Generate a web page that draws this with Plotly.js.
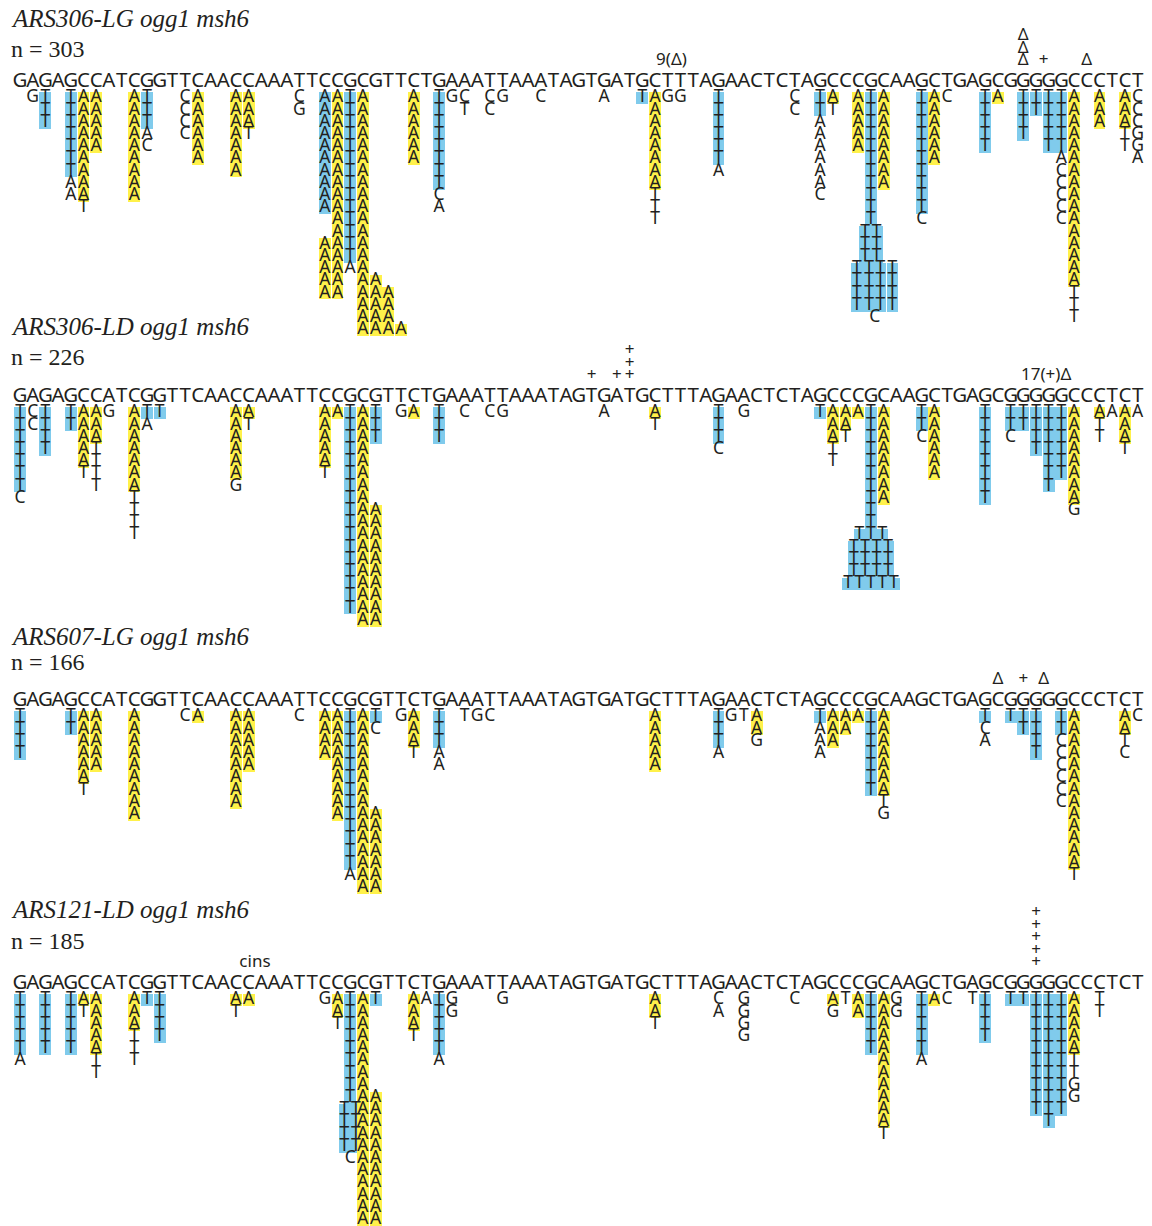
<!DOCTYPE html>
<html><head><meta charset="utf-8">
<script src="https://cdn.plot.ly/plotly-3.0.1.min.js"></script>
<style>html,body{margin:0;padding:0;background:#fff}</style>
</head><body><div id="chart" style="width:1152px;height:1226px"></div>
<script>
// ---------------- DATA ----------------
const SEQUENCE = "GAGAGCCATCGGTTCAACCAAATTCCGCGTTCTGAAATTAAATAGTGATGCTTTAGAACTCTAGCCCGCAAGCTGAGCGGGGGCCCTCT";
const TITLES = ["ARS306-LG ogg1 msh6", "ARS306-LD ogg1 msh6", "ARS607-LG ogg1 msh6", "ARS121-LD ogg1 msh6"];
const COUNTS = [303, 226, 166, 185];

// Each column: [sequence position, first row, letters top->bottom, highlighted rows, class]
// class "GT" = G->T (G:C->T:A), "CA" = C->A
const P1_COLUMNS = [
 [1,0,"G",0,""],[2,0,"TTT",3,"GT"],[4,0,"TTTTTTTAA",7,"GT"],[5,0,"AAAAAAAAAT",9,"CA"],[6,0,"AAAAA",5,"CA"],
 [9,0,"AAAAAAAAA",9,"CA"],[10,0,"TTTAC",3,"GT"],[13,0,"CCCC",0,""],[14,0,"AAAAAA",6,"CA"],[17,0,"AAAAAAA",7,"CA"],
 [18,0,"AAAT",3,"CA"],[22,0,"CG",0,""],[24,0,"AAAAAAAAAA",10,"GT"],[24,12,"AAAAA",5,"CA"],
 [25,0,"AAAAAAAAAAAAAAAAA",17,"CA"],[26,0,"TTTTTTTTTTTTTTA",14,"GT"],[27,0,"AAAAAAAAAAAAAAAAAAAA",20,"CA"],
 [28,15,"AAAAA",5,"CA"],[29,16,"AAAA",4,"CA"],[30,19,"A",1,"CA"],[31,0,"AAAAAA",6,"CA"],[33,0,"TTTTTTTTCA",8,"GT"],
 [34,0,"G",0,""],[35,0,"CT",0,""],[37,0,"CC",0,""],[38,0,"G",0,""],[41,0,"C",0,""],[46,0,"A",0,""],
 [49,0,"T",1,"GT"],[50,0,"AAAAAAAATTT",8,"CA"],[51,0,"G",0,""],[52,0,"G",0,""],[55,0,"TTTTTTA",6,"GT"],
 [61,0,"CC",0,""],[63,0,"TTAAAAAAC",2,"GT"],[64,0,"AT",1,"CA"],[66,0,"AAAAA",5,"CA"],[67,0,"TTTTTTTTTTT",11,"GT"],
 [66.55,11,"TTT",3,"GT"],[67.45,11,"TTT",3,"GT"],[65.9,14,"TTTT",4,"GT"],[66.85,14,"TTTT",4,"GT"],
 [67.75,14,"TTTT",4,"GT"],[68.7,14,"TTTT",4,"GT"],[67.3,18,"C",0,""],[68,0,"AAAAAAAA",8,"CA"],
 [71,0,"TTTTTTTTTTC",10,"GT"],[72,0,"AAAAAA",6,"CA"],[73,0,"C",0,""],[76,0,"TTTTT",5,"GT"],[77,0,"A",1,"CA"],
 [79,0,"TTTT",4,"GT"],[80,0,"TT",2,"GT"],[81,0,"TTTTT",5,"GT"],[82,0,"TTTTTACCCCC",5,"GT"],
 [83,0,"AAAAAAAAAAAAAAAATTT",16,"CA"],[85,0,"AAA",3,"CA"],[87,0,"AAATT",3,"CA"],[88,0,"CCCGGA",0,""]
];
const P2_COLUMNS = [
 [0,0,"TTTTTTTC",7,"GT"],[1,0,"CC",0,""],[2,0,"TTTT",4,"GT"],[4,0,"TT",2,"GT"],[5,0,"AAAAAT",5,"CA"],
 [6,0,"AAATTTT",3,"CA"],[7,0,"G",0,""],[9,0,"AAAAAAATTTT",7,"CA"],[10,0,"TA",1,"GT"],[11,0,"T",1,"GT"],
 [17,0,"AAAAAAG",6,"CA"],[18,0,"AT",1,"CA"],[24,0,"AAAAAT",5,"CA"],[25,0,"A",1,"CA"],
 [26,0,"TTTTTTTTTTTTTTTTT",17,"GT"],[27,0,"AAAAAAAAAAAAAAAAAA",18,"CA"],[28,0,"TTT",3,"GT"],
 [28,8,"AAAAAAAAAA",10,"CA"],[30,0,"G",0,""],[31,0,"A",1,"CA"],[33,0,"TTT",3,"GT"],[35,0,"C",0,""],
 [37,0,"C",0,""],[38,0,"G",0,""],[46,0,"A",0,""],[50,0,"AT",1,"CA"],[55,0,"TTTC",3,"GT"],[57,0,"G",0,""],
 [63,0,"T",1,"GT"],[64,0,"AAATT",3,"CA"],[65,0,"AAT",2,"CA"],[66,0,"A",1,"CA"],[67,0,"TTTTTTTTTT",10,"GT"],
 [66.1,10,"T",1,"GT"],[67,10,"T",1,"GT"],[67.9,10,"T",1,"GT"],
 [65.65,11,"TTT",3,"GT"],[66.55,11,"TTT",3,"GT"],[67.45,11,"TTT",3,"GT"],[68.35,11,"TTT",3,"GT"],
 [65.2,14,"T",1,"GT"],[66.1,14,"T",1,"GT"],[67,14,"T",1,"GT"],[67.9,14,"T",1,"GT"],[68.8,14,"T",1,"GT"],
 [68,0,"AAAAAAAA",8,"CA"],[71,0,"TTC",2,"GT"],[72,0,"AAAAAA",6,"CA"],[76,0,"TTTTTTTT",8,"GT"],
 [78,0,"TTC",2,"GT"],[79,0,"TT",2,"GT"],[80,0,"TTTT",4,"GT"],[81,0,"TTTTTTT",7,"GT"],[82,0,"TTTTTT",6,"GT"],
 [83,0,"AAAAAAAAG",8,"CA"],[85,0,"ATT",1,"CA"],[86,0,"A",0,""],[87,0,"AAAT",3,"CA"],[88,0,"A",0,""]
];
const P3_COLUMNS = [
 [0,0,"TTTT",4,"GT"],[4,0,"TT",2,"GT"],[5,0,"AAAAAAT",6,"CA"],[6,0,"AAAAA",5,"CA"],[9,0,"AAAAAAAAA",9,"CA"],
 [13,0,"C",0,""],[14,0,"A",1,"CA"],[17,0,"AAAAAAAA",8,"CA"],[18,0,"AAAAA",5,"CA"],[22,0,"C",0,""],
 [24,0,"AAAA",4,"CA"],[25,0,"AAAAAAAAA",9,"CA"],[26,0,"TTTTTTTTTTTTTA",13,"GT"],
 [27,0,"AAAAAAAAAAAAAAA",15,"CA"],[28,0,"TC",1,"GT"],[28,8,"AAAAAAA",7,"CA"],[30,0,"G",0,""],
 [31,0,"AAAT",3,"CA"],[33,0,"TTTAA",3,"GT"],[35,0,"T",0,""],[36,0,"G",0,""],[37,0,"C",0,""],
 [50,0,"AAAAA",5,"CA"],[55,0,"TTTA",3,"GT"],[56,0,"G",0,""],[57,0,"T",0,""],[58,0,"AAG",2,"CA"],
 [63,0,"TAAA",1,"GT"],[64,0,"AAA",3,"CA"],[65,0,"AA",2,"CA"],[66,0,"A",1,"CA"],[67,0,"TTTTTTT",7,"GT"],
 [68,0,"AAAAAAATG",7,"CA"],[76,0,"TCA",1,"GT"],[78,0,"T",1,"GT"],[79,0,"TT",2,"GT"],[80,0,"TTTT",4,"GT"],
 [82,0,"TTCCCCCC",2,"GT"],[83,0,"AAAAAAAAAAAAAT",13,"CA"],[87,0,"AATC",2,"CA"],[88,0,"C",0,""]
];
const P4_COLUMNS = [
 [0,0,"TTTTTA",5,"GT"],[2,0,"TTTTT",5,"GT"],[4,0,"TTTTT",5,"GT"],[5,0,"AT",1,"CA"],[6,0,"AAAAATT",5,"CA"],
 [9,0,"AAATTT",3,"CA"],[10,0,"T",1,"GT"],[11,0,"TTTT",4,"GT"],[17,0,"AT",1,"CA"],[18,0,"A",1,"CA"],
 [24,0,"G",0,""],[25,0,"AAT",2,"CA"],[26,0,"TTTTTTTTT",9,"GT"],[25.55,9,"TTTT",4,"GT"],[26.45,9,"TTTT",4,"GT"],
 [26,13,"C",0,""],[27,0,"AAAAAAAAAAAAAAAAAAA",19,"CA"],[28,0,"T",1,"GT"],[28,8,"AAAAAAAAAAA",11,"CA"],
 [31,0,"AAAT",3,"CA"],[32,0,"A",0,""],[33,0,"TTTTTA",5,"GT"],[34,0,"GG",0,""],[38,0,"G",0,""],
 [50,0,"AAT",2,"CA"],[55,0,"CA",0,""],[57,0,"GGGG",0,""],[61,0,"C",0,""],[64,0,"AG",1,"CA"],[65,0,"T",0,""],
 [66,0,"AA",2,"CA"],[67,0,"TTTTT",5,"GT"],[68,0,"AAAAAAAAAAAT",11,"CA"],[69,0,"GG",0,""],
 [71,0,"TTTTTA",5,"GT"],[72,0,"A",1,"CA"],[73,0,"C",0,""],[75,0,"T",0,""],[76,0,"TTTT",4,"GT"],
 [78,0,"T",1,"GT"],[79,0,"T",1,"GT"],[80,0,"TTTTTTTTTT",10,"GT"],[81,0,"TTTTTTTTTTT",11,"GT"],
 [82,0,"TTTTTTTTTT",10,"GT"],[83,0,"AAAAATTGG",5,"CA"],[85,0,"TT",0,""]
];

// Marks above the sequence: [sequence position, level above sequence, text]
const P1_MARKS = [[79,1,"Δ"],[79,2,"Δ"],[79,3,"Δ"],[80.6,1,"+"],[84,1,"Δ"],[51.3,1,"9(Δ)"]];
const P2_MARKS = [[45,1,"+"],[47,1,"+"],[48,1,"+"],[48,2,"+"],[48,3,"+"],[80.8,1,"17(+)Δ"]];
const P3_MARKS = [[77,1,"Δ"],[79,1,"+"],[80.6,1,"Δ"]];
const P4_MARKS = [[18.5,1,"cins"],[80,1,"+"],[80,2,"+"],[80,3,"+"],[80,4,"+"],[80,5,"+"]];

// ---------------- LAYOUT / DRAWING ----------------
const W = 1152, H = 1226;
const X0 = 20, DX = 12.7;        // pixel of position 0, pixels per base
const PITCH = 12.2;              // row pitch in px
const INK = "#231f20";
const SANS = "Noto Sans, Open Sans, DejaVu Sans, sans-serif";
const SERIF = "Liberation Serif, DejaVu Serif, serif";
const COLORS = {GT: "#80cbec", CA: "#fff14a"};

const PANELS = [
  {cols: P1_COLUMNS, marks: P1_MARKS, titleY: 18,  nY: 49,  seqY: 82},
  {cols: P2_COLUMNS, marks: P2_MARKS, titleY: 326, nY: 357, seqY: 397},
  {cols: P3_COLUMNS, marks: P3_MARKS, titleY: 636, nY: 662, seqY: 701},
  {cols: P4_COLUMNS, marks: P4_MARKS, titleY: 910, nY: 941, seqY: 984}
];

const seq = {x: [], y: [], t: []};
const mut = {x: [], y: [], t: []};
const mk = {x: [], y: [], t: []};
const bars = {GT: {x: [], y: [], base: []}, CA: {x: [], y: [], base: []}};
const annotations = [];

PANELS.forEach((p, pi) => {
  for (let i = 0; i < SEQUENCE.length; i++) { seq.x.push(i); seq.y.push(p.seqY); seq.t.push(SEQUENCE[i]); }
  const top = p.seqY + 10;
  p.cols.forEach(([pos, r0, letters, hl, cls]) => {
    for (let k = 0; k < letters.length; k++) {
      mut.x.push(pos); mut.y.push(top + (r0 + k + 0.5) * PITCH); mut.t.push(letters[k]);
    }
    if (hl > 0) { const b = bars[cls]; b.x.push(pos); b.base.push(top + r0 * PITCH); b.y.push(hl * PITCH); }
  });
  p.marks.forEach(([pos, lvl, txt]) => {
    mk.x.push(pos); mk.y.push(p.seqY - 21 - (lvl - 1) * 12.5); mk.t.push(txt);
  });
  annotations.push({xref: "paper", yref: "paper", x: 9 / W, y: 1 - p.titleY / H, xanchor: "left", yanchor: "middle",
    showarrow: false, text: "<i>" + TITLES[pi] + "</i>", font: {family: SERIF, size: 25, color: INK}});
  annotations.push({xref: "paper", yref: "paper", x: 9 / W, y: 1 - p.nY / H, xanchor: "left", yanchor: "middle",
    showarrow: false, text: "n = " + COUNTS[pi], font: {family: SERIF, size: 24, color: INK}});
});

const traces = [];
["GT", "CA"].forEach(c => {
  traces.push({type: "bar", x: bars[c].x, y: bars[c].y, base: bars[c].base, width: 0.94,
    marker: {color: COLORS[c], line: {width: 0}}, hoverinfo: "skip", showlegend: false});
});
traces.push({type: "scatter", mode: "text", x: seq.x, y: seq.y, text: seq.t, textposition: "middle center",
  textfont: {family: SANS, size: 20.5, color: INK}, hoverinfo: "skip", cliponaxis: false, showlegend: false});
traces.push({type: "scatter", mode: "text", x: mut.x, y: mut.y, text: mut.t, textposition: "middle center",
  textfont: {family: SANS, size: 17.5, color: INK}, hoverinfo: "skip", cliponaxis: false, showlegend: false});
traces.push({type: "scatter", mode: "text", x: mk.x, y: mk.y, text: mk.t, textposition: "middle center",
  textfont: {family: SANS, size: 17, color: INK}, hoverinfo: "skip", cliponaxis: false, showlegend: false});

const layout = {
  width: W, height: H, margin: {l: 0, r: 0, t: 0, b: 0},
  paper_bgcolor: "#ffffff", plot_bgcolor: "#ffffff",
  showlegend: false, hovermode: false, barmode: "overlay", bargap: 0,
  xaxis: {range: [-X0 / DX, (W - X0) / DX], visible: false, fixedrange: true},
  yaxis: {range: [H, 0], visible: false, fixedrange: true},
  annotations: annotations
};
Plotly.newPlot("chart", traces, layout, {staticPlot: true, displayModeBar: false});
</script>
</body></html>
